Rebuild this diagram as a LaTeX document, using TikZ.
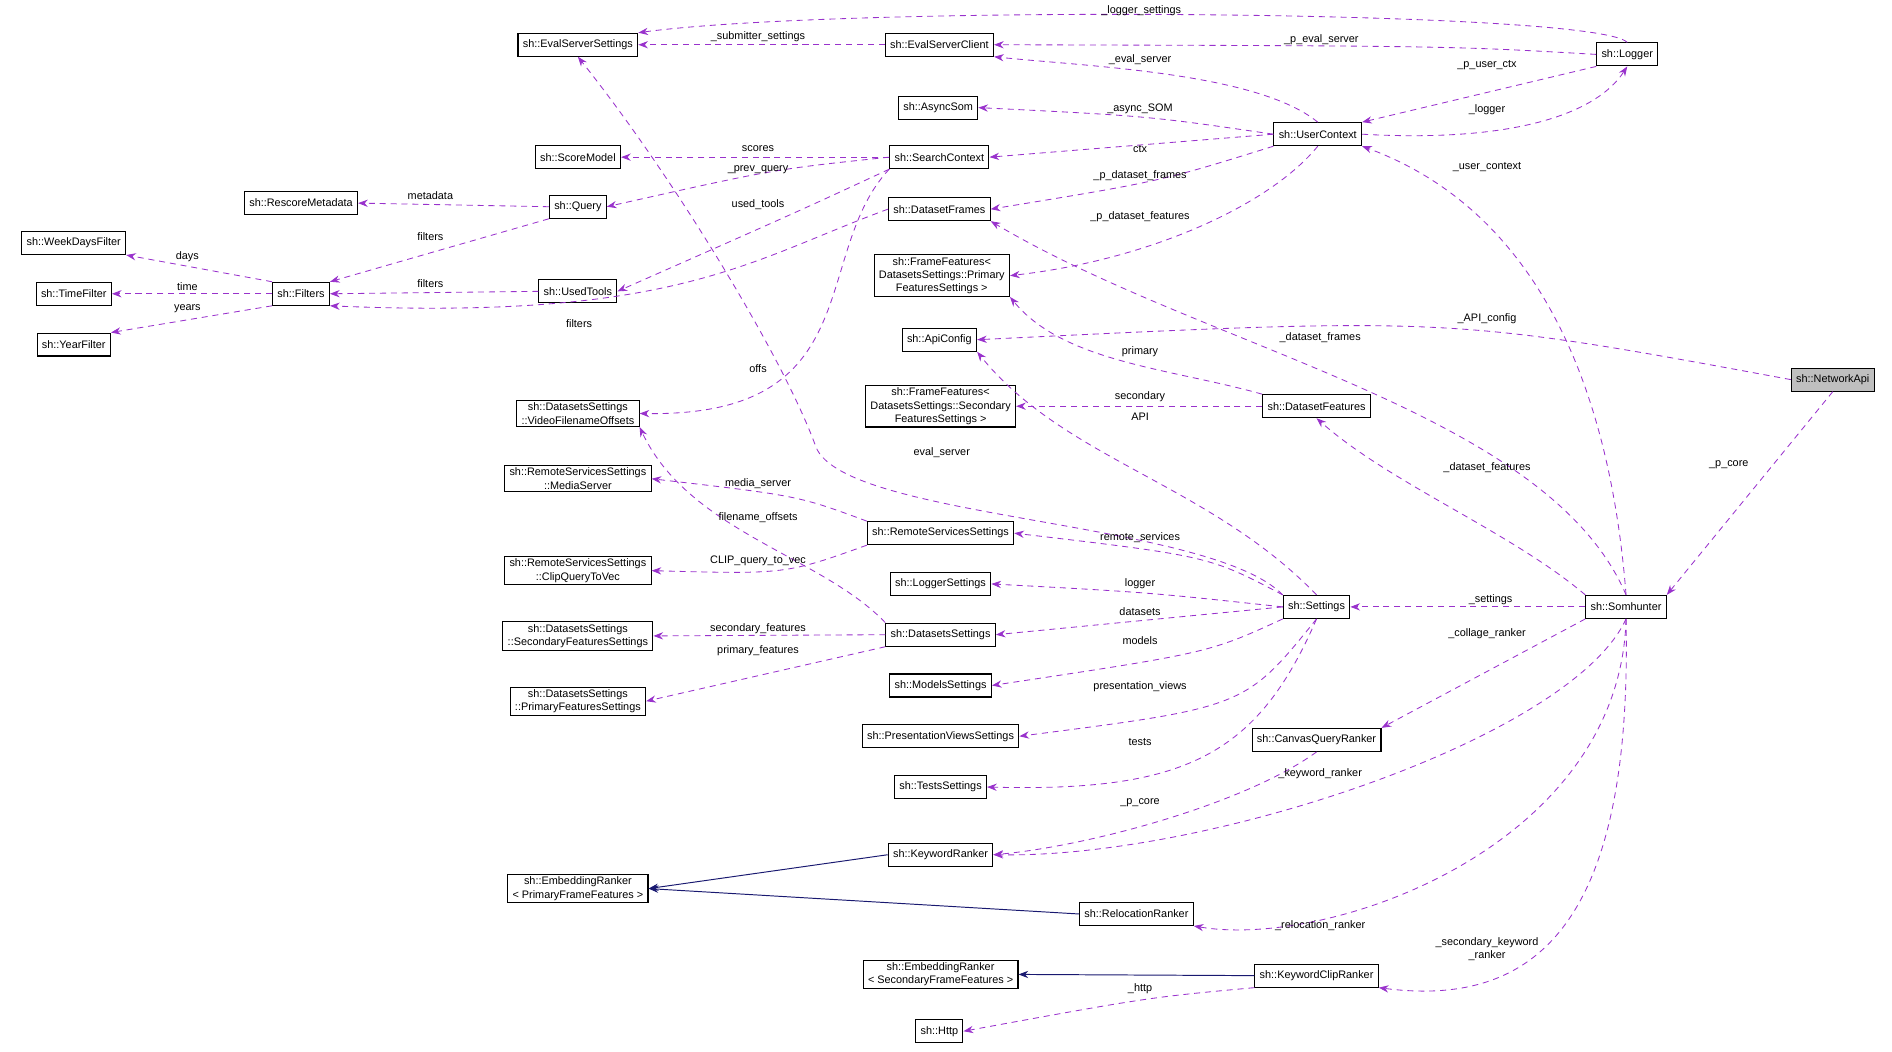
\documentclass[tikz,border=0pt]{standalone}
\usepackage{fontspec}
\setmainfont{Liberation Sans}
\usetikzlibrary{arrows.meta, positioning}
\definecolor{memberviolet}{RGB}{153,50,204}
\definecolor{basenavy}{RGB}{25,25,112}
\definecolor{focusgray}{RGB}{191,191,191}

\tikzset{
  cls/.style={rectangle, draw=black, fill=white, line width=0.9pt, minimum height=19pt, inner xsep=4pt, inner ysep=2pt, align=center, font=\fontsize{9}{11}\selectfont},
  lbl/.style={inner sep=0pt, font=\fontsize{9}{11}\selectfont},
  mem/.style={draw=memberviolet, dashed, dash pattern=on 5pt off 4pt, line width=0.7pt, -{Stealth[length=8pt,width=6pt]}},
  inh/.style={draw=basenavy, line width=0.8pt, -{Stealth[length=8pt,width=6pt]}}
}

\begin{document}
\begin{tikzpicture}[x=1pt, y=-1pt]
\useasboundingbox (0,0) rectangle (1565,870);

% classes, left column
\node[cls] (week) at (61,201) {sh::WeekDaysFilter};
\node[cls] (time) at (61,243) {sh::TimeFilter};
\node[cls] (year) at (61,285) {sh::YearFilter};
\node[cls] (rescore) at (249,168) {sh::RescoreMetadata};
\node[cls] (filters) at (249,243) {sh::Filters};

% classes, second column
\node[cls] (ess) at (478,37) {sh::EvalServerSettings};
\node[cls] (score) at (478,130) {sh::ScoreModel};
\node[cls] (query) at (478,171) {sh::Query};
\node[cls] (tools) at (478,241) {sh::UsedTools};
\node[cls] (vfo) at (478,342) {sh::DatasetsSettings\\::VideoFilenameOffsets};
\node[cls] (media) at (478,396) {sh::RemoteServicesSettings\\::MediaServer};
\node[cls] (clip) at (478,472) {sh::RemoteServicesSettings\\::ClipQueryToVec};
\node[cls] (sfs) at (478,526) {sh::DatasetsSettings\\::SecondaryFeaturesSettings};
\node[cls] (pfs) at (478,580) {sh::DatasetsSettings\\::PrimaryFeaturesSettings};
\node[cls] (erp) at (478,735) {sh::EmbeddingRanker\\< PrimaryFrameFeatures >};

% classes, middle column
\node[cls] (esc) at (777,37) {sh::EvalServerClient};
\node[cls] (async) at (776,89) {sh::AsyncSom};
\node[cls] (sc) at (777,130) {sh::SearchContext};
\node[cls] (df) at (777,173) {sh::DatasetFrames};
\node[cls] (ffp) at (779,228) {sh::FrameFeatures<\\DatasetsSettings::Primary\\FeaturesSettings >};
\node[cls] (apic) at (777,281) {sh::ApiConfig};
\node[cls] (ffs) at (778,336) {sh::FrameFeatures<\\DatasetsSettings::Secondary\\FeaturesSettings >};
\node[cls] (rss) at (778,441) {sh::RemoteServicesSettings};
\node[cls] (ls) at (778,483) {sh::LoggerSettings};
\node[cls] (dss) at (778,525) {sh::DatasetsSettings};
\node[cls] (models) at (778,567) {sh::ModelsSettings};
\node[cls] (pvs) at (778,609) {sh::PresentationViewsSettings};
\node[cls] (tests) at (778,651) {sh::TestsSettings};
\node[cls] (kr) at (778,707) {sh::KeywordRanker};
\node[cls] (ers) at (778,806) {sh::EmbeddingRanker\\< SecondaryFrameFeatures >};
\node[cls] (http) at (777,853) {sh::Http};

% classes, right part
\node[cls] (uc) at (1090,111) {sh::UserContext};
\node[cls] (logger) at (1346,45) {sh::Logger};
\node[cls] (dfeat) at (1089,336) {sh::DatasetFeatures};
\node[cls] (settings) at (1089,502) {sh::Settings};
\node[cls] (cqr) at (1089,612) {sh::CanvasQueryRanker};
\node[cls] (rr) at (940,756) {sh::RelocationRanker};
\node[cls] (kcr) at (1089,807) {sh::KeywordClipRanker};
\node[cls] (som) at (1345,502) {sh::Somhunter};
\node[cls, fill=focusgray] (na) at (1516,314) {sh::NetworkApi};

% inheritance
\draw[inh] (kr.west) -- (erp.east);
\draw[inh] (rr.west) -- (erp.east);
\draw[inh] (kcr.west) -- (ers.east);

% members
\draw[mem] (logger.north) .. controls (1320,8) and (700,4) .. (ess.north east);
\draw[mem] (esc.west) -- (ess.east);
\draw[mem] (logger.west) .. controls (1200,38) .. (esc.east);
\draw[mem] (uc.north) .. controls (1040,60) and (900,55) .. (esc.south east);
\draw[mem] (logger.south west) -- (uc.north east);
\draw[mem] (uc.east) .. controls (1250,118) and (1320,95) .. (logger.south);
\draw[mem] (uc.west) .. controls (950,96) .. (async.east);
\draw[mem] (uc.west) -- (sc.east);
\draw[mem] (sc.west) -- (score.east);
\draw[mem] (sc.west) .. controls (640,140) .. (query.east);
\draw[mem] (query.west) -- (rescore.east);
\draw[mem] (query.south west) -- (filters.north east);
\draw[mem] (sc.south west) .. controls (660,175) .. (tools.east);
\draw[mem] (uc.south west) .. controls (960,150) .. (df.east);
\draw[mem] (uc.south) .. controls (1050,170) and (950,215) .. (ffp.east);
\draw[mem] (filters.north west) -- (week.south east);
\draw[mem] (filters.west) -- (time.east);
\draw[mem] (filters.south west) -- (year.north east);
\draw[mem] (tools.west) -- (filters.east);
\draw[mem] (df.west) .. controls (620,215) and (560,265) .. (filters.south east);
\draw[mem] (som.north) .. controls (1330,300) and (1260,170) .. (uc.south east);
\draw[mem] (na.west) .. controls (1200,262) .. (apic.east);
\draw[mem] (som.north) .. controls (1280,340) and (1000,290) .. (df.south east);
\draw[mem] (dfeat.north west) .. controls (970,305) and (880,300) .. (ffp.south east);
\draw[mem] (dfeat.west) -- (ffs.east);
\draw[mem] (settings.north) .. controls (1000,400) and (880,380) .. (apic.south east);
\draw[mem] (som.north west) .. controls (1250,440) and (1150,400) .. (dfeat.south);
\draw[mem] (na.south) -- (som.north east);
\draw[mem] (sc.south west) .. controls (670,210) and (720,345) .. (vfo.east);
\draw[mem] (settings.north west) .. controls (1000,430) and (700,430) .. (675,370) .. controls (650,300) and (560,150) .. (ess.south);
\draw[mem] (rss.north west) .. controls (660,410) .. (media.east);
\draw[mem] (settings.north west) .. controls (1000,460) .. (rss.east);
\draw[mem] (rss.south west) .. controls (650,475) .. (clip.east);
\draw[mem] (dss.north west) .. controls (680,460) and (570,440) .. (vfo.south east);
\draw[mem] (settings.west) .. controls (950,490) .. (ls.east);
\draw[mem] (som.west) -- (settings.east);
\draw[mem] (settings.west) -- (dss.east);
\draw[mem] (dss.west) -- (sfs.east);
\draw[mem] (dss.south west) -- (pfs.east);
\draw[mem] (settings.south west) .. controls (1000,540) .. (models.east);
\draw[mem] (settings.south) .. controls (1030,585) .. (pvs.east);
\draw[mem] (settings.south) .. controls (1040,625) and (980,655) .. (tests.east);
\draw[mem] (som.south west) -- (cqr.north east);
\draw[mem] (cqr.south) .. controls (1030,665) and (900,700) .. (kr.east);
\draw[mem] (som.south) .. controls (1300,610) and (1000,710) .. (kr.east);
\draw[mem] (som.south) .. controls (1340,700) and (1100,785) .. (rr.south east);
\draw[mem] (som.south) .. controls (1350,750) and (1280,835) .. (kcr.south east);
\draw[mem] (kcr.south west) .. controls (950,825) .. (http.east);

% member labels
\node[lbl] (l1) at (944,9) {\_logger\_settings};
\node[lbl] (l2) at (627,30) {\_submitter\_settings};
\node[lbl] (l3) at (1093,33) {\_p\_eval\_server};
\node[lbl] (l4) at (943,49) {\_eval\_server};
\node[lbl] (l5) at (1230,54) {\_p\_user\_ctx};
\node[lbl] (l6) at (1230,91) {\_logger};
\node[lbl] (l7) at (943,90) {\_async\_SOM};
\node[lbl] (l8) at (943,123) {ctx};
\node[lbl] (l9) at (627,123) {scores};
\node[lbl] (l10) at (627,140) {\_prev\_query};
\node[lbl] (l11) at (356,162) {metadata};
\node[lbl] (l12) at (356,196) {filters};
\node[lbl] (l13) at (627,169) {used\_tools};
\node[lbl] (l14) at (943,145) {\_p\_dataset\_frames};
\node[lbl] (l15) at (943,179) {\_p\_dataset\_features};
\node[lbl] (l16) at (155,212) {days};
\node[lbl] (l17) at (155,237) {time};
\node[lbl] (l18) at (155,255) {years};
\node[lbl] (l19) at (356,235) {filters};
\node[lbl] (l20) at (479,268) {filters};
\node[lbl] (l21) at (1230,138) {\_user\_context};
\node[lbl] (l22) at (1230,264) {\_API\_config};
\node[lbl] (l23) at (1092,279) {\_dataset\_frames};
\node[lbl] (l24) at (943,291) {primary};
\node[lbl] (l25) at (943,328) {secondary};
\node[lbl] (l26) at (943,345) {API};
\node[lbl] (l27) at (1230,387) {\_dataset\_features};
\node[lbl] (l28) at (1430,384) {\_p\_core};
\node[lbl] (l29) at (627,305) {offs};
\node[lbl] (l30) at (779,374) {eval\_server};
\node[lbl] (l31) at (627,400) {media\_server};
\node[lbl] (l32) at (943,445) {remote\_services};
\node[lbl] (l33) at (627,464) {CLIP\_query\_to\_vec};
\node[lbl] (l34) at (627,428) {filename\_offsets};
\node[lbl] (l35) at (943,483) {logger};
\node[lbl] (l36) at (1233,496) {\_settings};
\node[lbl] (l37) at (943,506) {datasets};
\node[lbl] (l38) at (627,520) {secondary\_features};
\node[lbl] (l39) at (627,538) {primary\_features};
\node[lbl] (l40) at (943,530) {models};
\node[lbl] (l41) at (943,568) {presentation\_views};
\node[lbl] (l42) at (943,614) {tests};
\node[lbl] (l43) at (1230,524) {\_collage\_ranker};
\node[lbl] (l44) at (943,664) {\_p\_core};
\node[lbl] (l45) at (1092,640) {\_keyword\_ranker};
\node[lbl] (l46) at (1092,766) {\_relocation\_ranker};
\node[lbl, align=center] (l47) at (1230,785) {\_secondary\_keyword\\\_ranker};
\node[lbl] (l48) at (943,818) {\_http};
\end{tikzpicture}
\end{document}
